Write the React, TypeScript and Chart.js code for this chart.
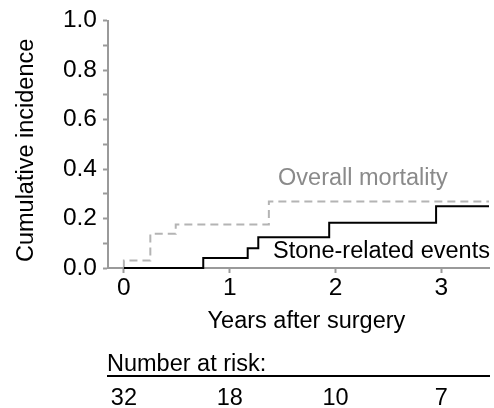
import React, { useEffect, useRef } from 'react';
import { Chart, registerables } from 'chart.js';

Chart.register(...registerables);

// ---- data ----
const stoneTimes = [0, 0.75, 1.17, 1.27, 1.94, 2.95, 3.45];
const stoneValues = [0, 0.04, 0.08, 0.124, 0.183, 0.25, 0.25];
const mortalityTimes = [0, 0, 0.25, 0.49, 1.37, 3.45];
const mortalityValues = [0, 0.03, 0.138, 0.176, 0.269, 0.269];

const xTickValues = [0, 1, 2, 3];
const yTickValues = [0, 0.1, 0.2, 0.3, 0.4, 0.5, 0.6, 0.7, 0.8, 0.9, 1.0];

const riskTimes = [0, 1, 2, 3];
const riskCounts = [32, 18, 10, 7];

const xTitle = 'Years after surgery';
const yTitle = 'Cumulative incidence';
const riskTitle = 'Number at risk:';
const stoneLabel = 'Stone-related events';
const mortalityLabel = 'Overall mortality';
// label anchor positions in data units (left x, baseline y)
const stoneLabelPos = [1.41, 0.042];
const mortalityLabelPos = [1.457, 0.335];

const FONT_FAMILY = '"Liberation Sans", Arial, Helvetica, sans-serif';
const FONT_SIZE = 23.5;
const TICK_FONT_SIZE = 24.5;
const AXIS_COLOR = '#9a9a9a';
const GRAY_LINE = '#b4b4b4';
const GRAY_TEXT = '#8a8a8a';

const textPlugin = {
  id: 'kmText',
  afterDraw(chart: any) {
    const { ctx, chartArea } = chart;
    const xs = chart.scales.x;
    const ys = chart.scales.y;
    ctx.save();
    ctx.font = `${FONT_SIZE}px ${FONT_FAMILY}`;
    ctx.textBaseline = 'alphabetic';

    // y title
    ctx.save();
    ctx.translate(33, (chartArea.top + chartArea.bottom) / 2 + 6);
    ctx.rotate(-Math.PI / 2);
    ctx.textAlign = 'center';
    ctx.fillStyle = '#000';
    ctx.fillText(yTitle, 0, 0);
    ctx.restore();

    // x title
    ctx.textAlign = 'center';
    ctx.fillStyle = '#000';
    ctx.fillText(xTitle, (xs.getPixelForValue(0) + chartArea.right) / 2, 328);

    // series labels
    ctx.textAlign = 'left';
    ctx.fillStyle = GRAY_TEXT;
    ctx.fillText(mortalityLabel, xs.getPixelForValue(mortalityLabelPos[0]), ys.getPixelForValue(mortalityLabelPos[1]));
    ctx.fillStyle = '#000';
    ctx.fillText(stoneLabel, xs.getPixelForValue(stoneLabelPos[0]), ys.getPixelForValue(stoneLabelPos[1]));

    // number at risk
    ctx.textAlign = 'left';
    ctx.fillText(riskTitle, chartArea.left - 1, 371);
    ctx.beginPath();
    ctx.strokeStyle = '#000';
    ctx.lineWidth = 2;
    ctx.moveTo(chartArea.left - 1, 376);
    ctx.lineTo(chartArea.right + 1, 376);
    ctx.stroke();
    ctx.textAlign = 'center';
    riskCounts.forEach((c, i) => {
      ctx.fillText(String(c), xs.getPixelForValue(riskTimes[i]), 405);
    });
    ctx.restore();
  },
};

export default function App() {
  const ref = useRef<HTMLCanvasElement | null>(null);

  useEffect(() => {
    if (!ref.current) return;
    const font = { family: FONT_FAMILY, size: TICK_FONT_SIZE };
    const chart = new Chart(ref.current, {
      type: 'line',
      data: {
        datasets: [
          {
            label: stoneLabel,
            data: stoneTimes.map((t, i) => ({ x: t, y: stoneValues[i] })),
            borderColor: '#000',
            borderWidth: 2,
            stepped: 'before',
            pointRadius: 0,
            fill: false,
            clip: false as any,
          },
          {
            label: mortalityLabel,
            data: mortalityTimes.map((t, i) => ({ x: t, y: mortalityValues[i] })),
            borderColor: GRAY_LINE,
            borderWidth: 2,
            borderDash: [8, 5],
            stepped: 'before',
            pointRadius: 0,
            fill: false,
            clip: false as any,
          },
        ],
      },
      options: {
        responsive: false,
        animation: false,
        devicePixelRatio: 1,
        layout: { padding: { left: 0, right: 5, top: 20, bottom: 0 } },
        plugins: { legend: { display: false }, tooltip: { enabled: false } },
        scales: {
          x: {
            type: 'linear',
            min: -0.15,
            max: 3.45,
            afterBuildTicks: (s: any) => {
              s.ticks = xTickValues.map((v) => ({ value: v }));
            },
            afterFit: (s: any) => {
              s.height = 140;
            },
            grid: { drawOnChartArea: false, drawTicks: true, tickLength: 5, color: AXIS_COLOR, tickWidth: 2 },
            border: { display: true, color: AXIS_COLOR, width: 2 },
            ticks: {
              font,
              color: '#000',
              padding: 1,
              maxRotation: 0,
              autoSkip: false,
              callback: (v: any) => String(v),
            },
          },
          y: {
            type: 'linear',
            min: 0,
            max: 1,
            afterBuildTicks: (s: any) => {
              s.ticks = yTickValues.map((v) => ({ value: v }));
            },
            afterFit: (s: any) => {
              s.width = 108;
            },
            grid: { drawOnChartArea: false, drawTicks: true, tickLength: 5, color: AXIS_COLOR, tickWidth: 2 },
            border: { display: true, color: AXIS_COLOR, width: 2 },
            ticks: {
              font,
              color: '#000',
              padding: 6,
              autoSkip: false,
              callback: (v: any) => (Math.round(Number(v) * 10) % 2 === 0 ? Number(v).toFixed(1) : ''),
            },
          },
        },
      },
      plugins: [textPlugin],
    });
    return () => chart.destroy();
  }, []);

  return (
    <div style={{ position: 'fixed', left: 0, top: 0, width: 494, height: 408 }}>
      <canvas ref={ref} width={494} height={408} style={{ width: 494, height: 408, display: 'block' }} />
    </div>
  );
}
